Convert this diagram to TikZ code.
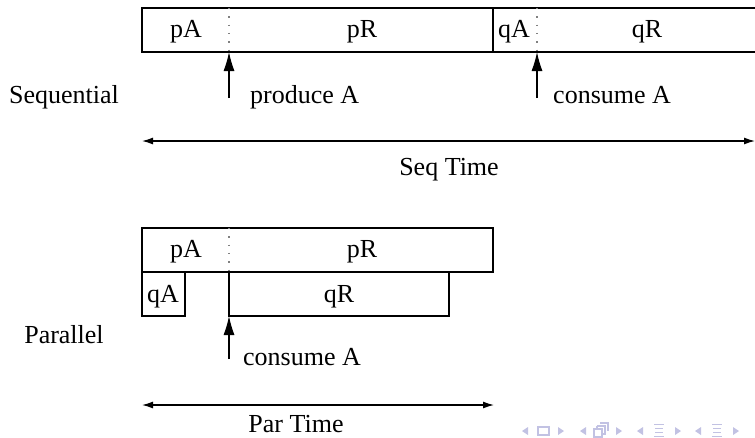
\documentclass[tikz,border=0pt]{standalone}
\usepackage{fontspec}
\setmainfont{Liberation Serif}
\usetikzlibrary{arrows.meta}
\definecolor{navblue}{rgb}{0.76,0.76,0.89}
\begin{document}
\begin{tikzpicture}[x=1pt,y=-1pt,
  bar/.style={draw, line width=1.1pt},
  lbl/.style={font=\fontsize{26}{30}\selectfont, anchor=base, inner sep=0pt},
  divider/.style={draw=gray, line width=1.1pt, dash pattern=on 1.3pt off 7pt},
  ptr/.style={-{Latex[length=19pt,width=11pt]}, line width=1.1pt},
  span/.style={{Latex[length=11pt,width=7pt]}-{Latex[length=11pt,width=7pt]}, line width=1.3pt},
  nav/.style={fill=navblue, draw=none},
  navline/.style={draw=navblue, line width=1.1pt}]
\useasboundingbox (0,0) rectangle (755,437);
\clip (0,0) rectangle (755,437);

% ---- sequential run ----
\draw[bar] (760,8) -- (142,8) -- (142,52) -- (760,52);
\draw[bar] (493,8) -- (493,52);
\draw[divider] (229,8) -- (229,52);
\draw[divider] (537,8) -- (537,52);
\node[lbl] (spA) at (186,37) {pA};
\node[lbl] (spR) at (362,37) {pR};
\node[lbl] (sqA) at (514,37) {qA};
\node[lbl] (sqR) at (647,37) {qR};

\node[lbl] (seqname) at (64,103) {Sequential};
\coordinate (prodTail) at (229,98);
\coordinate (prodTip) at (229,52);
\draw[ptr] (prodTail) -- (prodTip);
\node[lbl, anchor=base west] (produce) at (250,103) {produce A};
\coordinate (consTail) at (537,98);
\coordinate (consTip) at (537,52);
\draw[ptr] (consTail) -- (consTip);
\node[lbl, anchor=base west] (consume) at (553,103) {consume A};

\coordinate (seqL) at (142,141);
\coordinate (seqR) at (755,141);
\draw[span] (seqL) -- (seqR);
\node[lbl] (seqtime) at (449,175) {Seq Time};

% ---- parallel run ----
\draw[bar] (142,228) rectangle (493,272);
\draw[divider] (229,228) -- (229,272);
\node[lbl] (ppA) at (186,257) {pA};
\node[lbl] (ppR) at (362,257) {pR};
\draw[bar] (142,272) rectangle (185,316);
\node[lbl] (pqA) at (163,302) {qA};
\draw[bar] (229,272) rectangle (449,316);
\node[lbl] (pqR) at (339,302) {qR};

\node[lbl] (parname) at (64,343) {Parallel};
\coordinate (pconsTail) at (229,359);
\coordinate (pconsTip) at (229,316);
\draw[ptr] (pconsTail) -- (pconsTip);
\node[lbl, anchor=base west] (pconsume) at (243,365) {consume A};

\coordinate (parL) at (142,405);
\coordinate (parR) at (494,405);
\draw[span] (parL) -- (parR);
\node[lbl] (partime) at (296,432) {Par Time};

% ---- navigation symbols ----
\foreach \x in {525,583,640,698}
  \fill[nav] (\x-3,431) -- (\x+3,427) -- (\x+3,435) -- cycle;
\foreach \x in {561,619,678,736}
  \fill[nav] (\x+3,431) -- (\x-3,427) -- (\x-3,435) -- cycle;
\draw[navline] (538,427) rectangle (549,435);
\draw[navline] (594,429) rectangle (602,437);
\draw[navline] (597,426) -- (597,429) (597,426) -- (605,426) -- (605,434) -- (602,434);
\draw[navline] (600,423) -- (608,423) -- (608,431);
\foreach \x in {659,717} {
  \draw[navline, line width=1pt] (\x-5,424) -- (\x+5,424);
  \draw[navline, line width=1pt] (\x-4,428) -- (\x+4,428);
  \draw[navline, line width=1pt] (\x-4,432) -- (\x+4,432);
  \draw[navline, line width=1pt] (\x-5,436) -- (\x+5,436);
}
\end{tikzpicture}
\end{document}
